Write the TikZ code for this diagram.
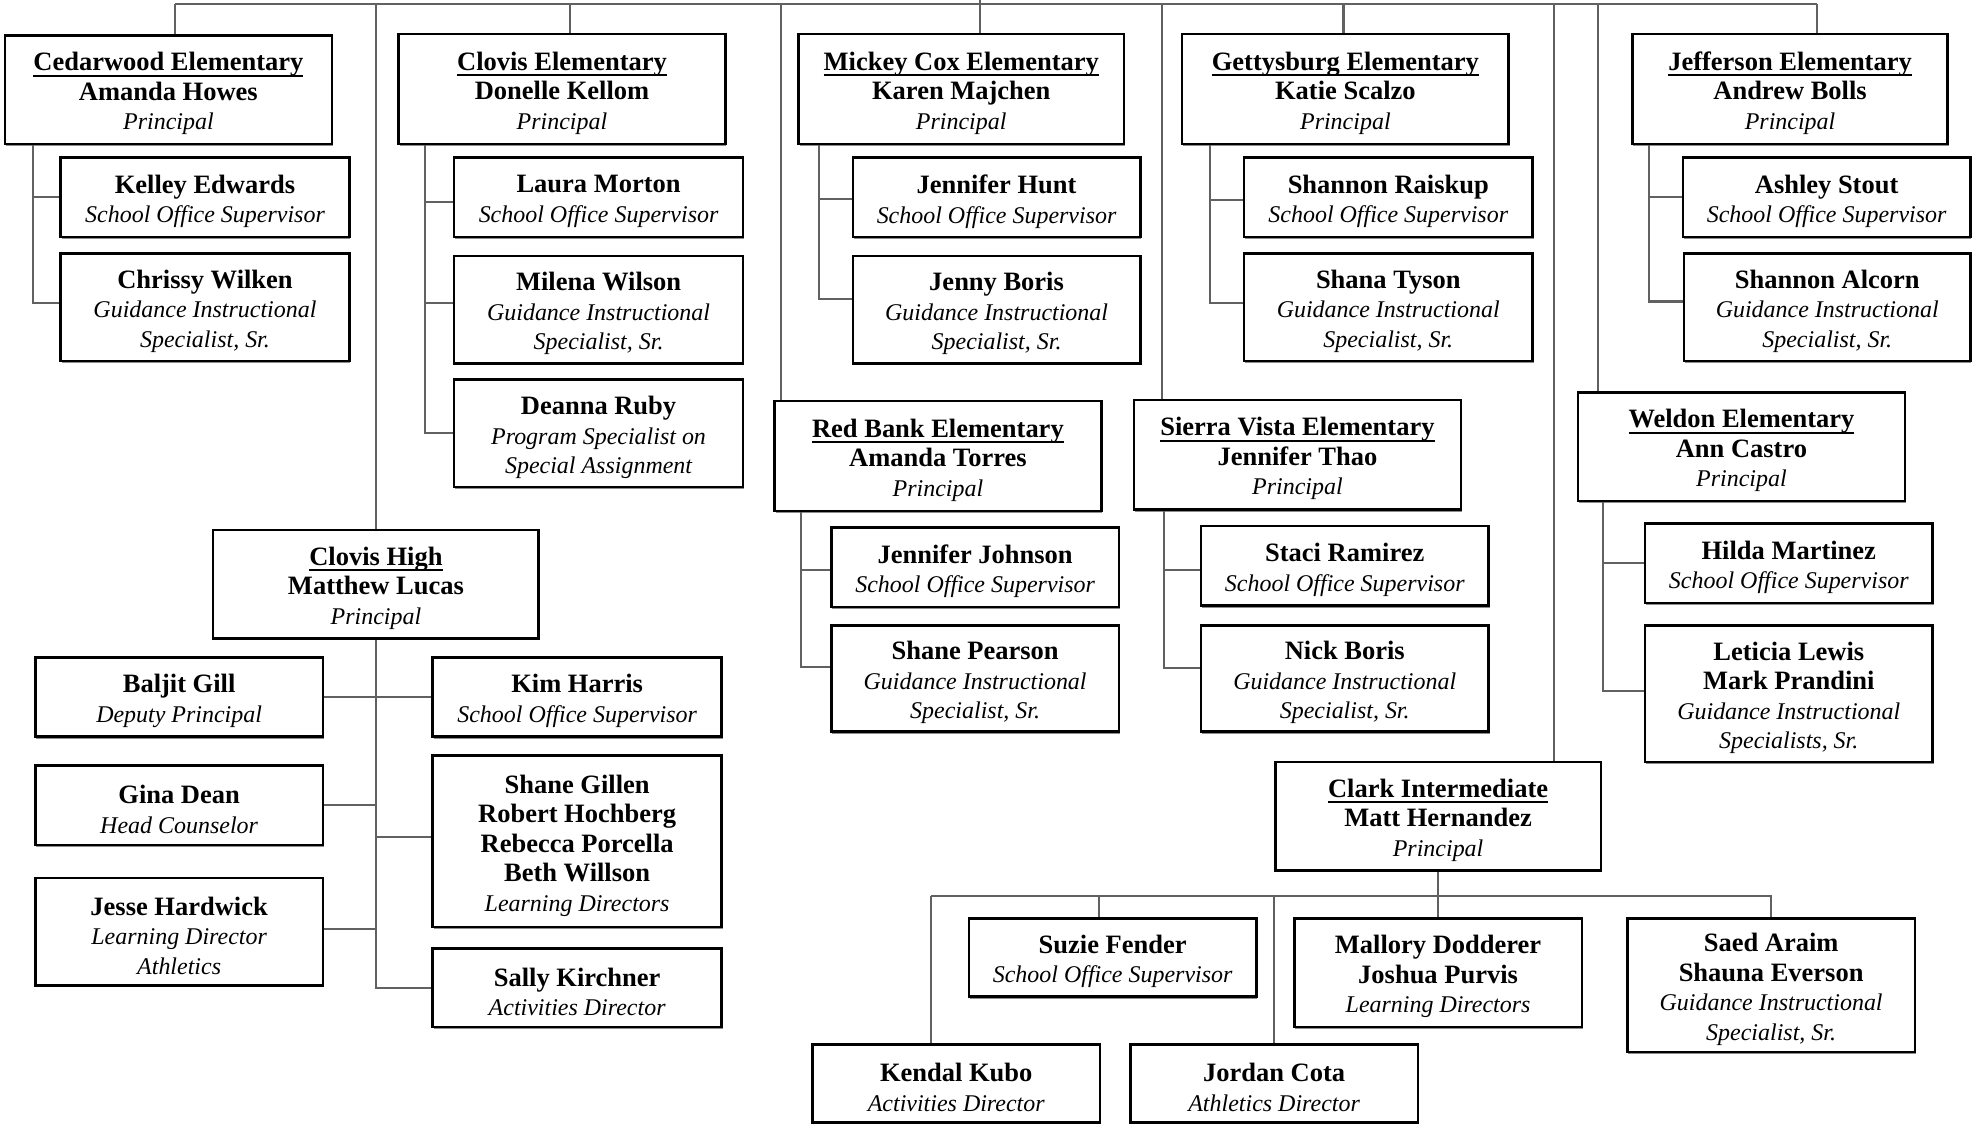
\documentclass[tikz,border=0pt]{standalone}
\usepackage{fontspec}
\setmainfont{Liberation Serif}
\usetikzlibrary{shadows}
\tikzset{
  box/.style={draw=black, line width=1pt, fill=white, inner sep=0pt,
    drop shadow={shadow xshift=0.4pt, shadow yshift=-0.8pt, fill=black!45, opacity=1}},
  boxtext/.style={inner sep=0pt, align=center, font=\fontsize{10.5}{11.7}\selectfont},
  conn/.style={draw=black!62, line width=0.8pt},
}
\newcommand\nm[1]{{\bfseries #1}}
\newcommand\ti[1]{{\fontsize{9.5}{11.7}\selectfont\itshape #1}}
\newcommand\sch[1]{{\leavevmode\bfseries\setbox0\hbox{#1}\rlap{\rule[-2.4pt]{\wd0}{0.9pt}}\box0}}
\newcommand\bx[6]{%
  \node[box, minimum width={(#4-#2)*0.5pt}, minimum height={(#5-#3)*0.5pt}] (#1) at ({(#2+#4)/2},{(#3+#5)/2}) {};
  \node[boxtext] (#1-t) at ([yshift=-1.6pt]#1.center) {#6};}
\newcommand\SOS{\ti{School Office Supervisor}}
\newcommand\GIS{\ti{Guidance Instructional}\\\ti{Specialist, Sr.}}
\begin{document}
\begin{tikzpicture}[x=0.5pt,y=-0.5pt]
\useasboundingbox (0,0) rectangle (1568,891);
% --- boxes ---
\bx{ced}{4}{28}{263}{114}{\sch{Cedarwood Elementary}\\\nm{Amanda Howes}\\\ti{Principal}}
\bx{kel}{48}{125}{277}{188}{\nm{Kelley Edwards}\\\SOS}
\bx{chr}{48}{201}{277}{286}{\nm{Chrissy Wilken}\\\GIS}
\bx{cle}{316}{27}{575}{114}{\sch{Clovis Elementary}\\\nm{Donelle Kellom}\\\ti{Principal}}
\bx{mor}{360}{125}{589}{188}{\nm{Laura Morton}\\\SOS}
\bx{wil}{360}{203}{589}{288}{\nm{Milena Wilson}\\\GIS}
\bx{rub}{360}{301}{589}{386}{\nm{Deanna Ruby}\\\ti{Program Specialist on}\\\ti{Special Assignment}}
\bx{mic}{633}{27}{891}{114}{\sch{Mickey Cox Elementary}\\\nm{Karen Majchen}\\\ti{Principal}}
\bx{hun}{676}{125}{904}{188}{\nm{Jennifer Hunt}\\\SOS}
\bx{jbo}{676}{203}{904}{288}{\nm{Jenny Boris}\\\GIS}
\bx{get}{937}{27}{1196}{114}{\sch{Gettysburg Elementary}\\\nm{Katie Scalzo}\\\ti{Principal}}
\bx{rai}{986}{125}{1215}{188}{\nm{Shannon Raiskup}\\\SOS}
\bx{tys}{986}{201}{1215}{286}{\nm{Shana Tyson}\\\GIS}
\bx{jef}{1294}{27}{1544}{114}{\sch{Jefferson Elementary}\\\nm{Andrew Bolls}\\\ti{Principal}}
\bx{sto}{1334}{125}{1562}{188}{\nm{Ashley Stout}\\\SOS}
\bx{alc}{1335}{201}{1562}{286}{\nm{Shannon Alcorn}\\\GIS}
\bx{chs}{169}{420}{427}{506}{\sch{Clovis High}\\\nm{Matthew Lucas}\\\ti{Principal}}
\bx{bal}{28}{521}{256}{584}{\nm{Baljit Gill}\\\ti{Deputy Principal}}
\bx{kim}{343}{521}{572}{584}{\nm{Kim Harris}\\\SOS}
\bx{gin}{28}{607}{256}{670}{\nm{Gina Dean}\\\ti{Head Counselor}}
\bx{ldr}{343}{599}{572}{735}{\nm{Shane Gillen}\\\nm{Robert Hochberg}\\\nm{Rebecca Porcella}\\\nm{Beth Willson}\\\ti{Learning Directors}}
\bx{jes}{28}{696}{256}{781}{\nm{Jesse Hardwick}\\\ti{Learning Director}\\\ti{Athletics}}
\bx{sal}{343}{752}{572}{814}{\nm{Sally Kirchner}\\\ti{Activities Director}}
\bx{rbk}{614}{318}{873}{405}{\sch{Red Bank Elementary}\\\nm{Amanda Torres}\\\ti{Principal}}
\bx{jjo}{659}{418}{887}{481}{\nm{Jennifer Johnson}\\\SOS}
\bx{pea}{659}{496}{887}{580}{\nm{Shane Pearson}\\\GIS}
\bx{sie}{899}{317}{1158}{404}{\sch{Sierra Vista Elementary}\\\nm{Jennifer Thao}\\\ti{Principal}}
\bx{ram}{952}{417}{1180}{480}{\nm{Staci Ramirez}\\\SOS}
\bx{nbo}{952}{496}{1180}{580}{\nm{Nick Boris}\\\GIS}
\bx{wel}{1251}{311}{1510}{397}{\sch{Weldon Elementary}\\\nm{Ann Castro}\\\ti{Principal}}
\bx{mar}{1304}{415}{1532}{478}{\nm{Hilda Martinez}\\\SOS}
\bx{lew}{1304}{496}{1532}{604}{\nm{Leticia Lewis}\\\nm{Mark Prandini}\\\ti{Guidance Instructional}\\\ti{Specialists, Sr.}}
\bx{cla}{1011}{604}{1269}{690}{\sch{Clark Intermediate}\\\nm{Matt Hernandez}\\\ti{Principal}}
\bx{suz}{768}{728}{996}{790}{\nm{Suzie Fender}\\\SOS}
\bx{mal}{1026}{728}{1254}{814}{\nm{Mallory Dodderer}\\\nm{Joshua Purvis}\\\ti{Learning Directors}}
\bx{sae}{1290}{728}{1518}{834}{\nm{Saed Araim}\\\nm{Shauna Everson}\\\GIS}
\bx{kub}{644}{828}{872}{890}{\nm{Kendal Kubo}\\\ti{Activities Director}}
\bx{cot}{896}{828}{1124}{890}{\nm{Jordan Cota}\\\ti{Athletics Director}}
% --- top bar ---
\coordinate (root) at (777,0);
\coordinate (barL) at (139,3);
\coordinate (barR) at (1440,3);
\coordinate (dchs) at (298,3);
\coordinate (dcle) at (452,3);
\coordinate (drbk) at (619,3);
\coordinate (dsie) at (921,3);
\coordinate (dget) at (1065,3);
\coordinate (dcla) at (1232,3);
\coordinate (dwel) at (1267,3);
\draw[conn] (barL) -- (barR);
\draw[conn] (root) -- (root |- mic.north);
\draw[conn] (barL) -- (barL |- ced.north);
\draw[conn] (dchs) -- (dchs |- chs.north);
\draw[conn] (dcle) -- (dcle |- cle.north);
\draw[conn] (drbk) -- (drbk |- rbk.north);
\draw[conn] (dsie) -- (dsie |- sie.north);
\draw[conn] (dget) -- (dget |- get.north);
\draw[conn] (dcla) -- (dcla |- cla.north);
\draw[conn] (dwel) -- (dwel |- wel.north);
\draw[conn] (barR) -- (barR |- jef.north);
% --- elementary subtrees ---
\draw[conn] (ced.south west) ++(23,0) |- (kel.west);
\draw[conn] (ced.south west) ++(23,0) |- ([yshift=1.75pt]chr.west);
\draw[conn] (cle.south west) ++(22,0) |- ([yshift=-1.75pt]mor.west);
\draw[conn] (cle.south west) ++(22,0) |- ([yshift=2.75pt]wil.west);
\draw[conn] (cle.south west) ++(22,0) |- (rub.west);
\draw[conn] (mic.south west) ++(17,0) |- ([yshift=-0.5pt]hun.west);
\draw[conn] (mic.south west) ++(17,0) |- ([yshift=4.25pt]jbo.west);
\draw[conn] (get.south west) ++(23,0) |- ([yshift=-1pt]rai.west);
\draw[conn] (get.south west) ++(23,0) |- ([yshift=1.5pt]tys.west);
\draw[conn] (jef.south west) ++(14,0) |- (sto.west);
\draw[conn] (jef.south west) ++(14,0) |- ([yshift=2.25pt]alc.west);
\draw[conn] (rbk.south west) ++(22,0) |- ([yshift=-1.25pt]jjo.west);
\draw[conn] (rbk.south west) ++(22,0) |- ([yshift=4.5pt]pea.west);
\draw[conn] (sie.south west) ++(25,0) |- ([yshift=-1.5pt]ram.west);
\draw[conn] (sie.south west) ++(25,0) |- ([yshift=4.25pt]nbo.west);
\draw[conn] (wel.south west) ++(21,0) |- (mar.west);
\draw[conn] (wel.south west) ++(21,0) |- ([yshift=1pt]lew.west);
% --- Clovis High subtree ---
\draw[conn] (chs.south) -- (chs.south |- sal.west) -- (sal.west);
\draw[conn] (bal.east) -- (kim.west);
\draw[conn] (gin.east) -- (gin.east -| chs.south);
\draw[conn] ([yshift=1.75pt]ldr.west) -- ([yshift=1.75pt]ldr.west -| chs.south);
\draw[conn] ([yshift=1pt]jes.east) -- ([yshift=1pt]jes.east -| chs.south);
% --- Clark subtree ---
\coordinate (cbL) at (738,710);
\coordinate (cbR) at (1405,710);
\coordinate (cbS) at (871,710);
\draw[conn] (cla.south) -- (mal.north);
\draw[conn] (cbL) -- (cbR);
\draw[conn] (cbL) -- (cbL |- kub.north);
\draw[conn] (cbS) -- (cbS |- suz.north);
\draw[conn] (cot.north |- cbL) -- (cot.north);
\draw[conn] (sae.north |- cbL) -- (sae.north);
\end{tikzpicture}
\end{document}
